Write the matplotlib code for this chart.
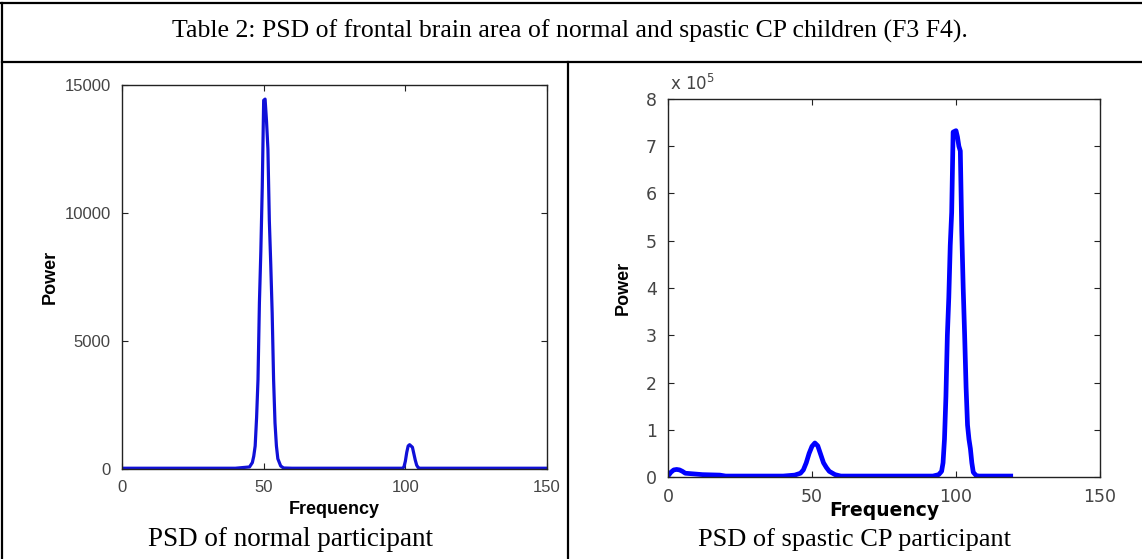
import numpy as np
import matplotlib
matplotlib.use("Agg")
import matplotlib.pyplot as plt
from matplotlib.lines import Line2D

# PSD of normal participant (F3 F4)
normal_freq = [0, 40, 43, 45, 46, 46.5, 47, 47.5, 48, 48.5, 49, 49.5, 50, 50.5,
               51, 51.5, 52, 52.5, 53, 53.5, 54, 54.5, 55, 56, 57, 60,
               99, 99.5, 100, 100.5, 101, 101.5, 102, 102.5, 103, 103.5, 104,
               104.5, 105, 106, 150]
normal_power = [30, 30, 60, 80, 250, 500, 900, 2000, 3500, 6500, 8500, 11000,
                14400, 14450, 13600, 12500, 9700, 8000, 6100, 3500, 1800, 900,
                400, 120, 40, 30,
                30, 80, 300, 650, 900, 950, 900, 850, 600, 350, 150,
                60, 30, 30, 30]

# PSD of spastic CP participant, power in units of 1e5
spastic_freq = [0, 1, 2, 3, 4, 5, 6, 8, 10, 12, 18, 20, 40, 44, 46, 47, 48, 49,
                50, 51, 52, 53, 54, 55, 56, 58, 60, 92, 94, 95, 95.5, 96, 96.5,
                97, 97.5, 98, 98.5, 99, 100, 100.5, 101, 101.5, 102, 102.5,
                103, 103.5, 104, 104.5, 105, 105.5, 106, 107, 108, 119]
spastic_power_e5 = [0.02, 0.1, 0.15, 0.16, 0.15, 0.12, 0.08, 0.07, 0.06, 0.05,
                    0.04, 0.02, 0.02, 0.04, 0.08, 0.15, 0.3, 0.5, 0.65, 0.72,
                    0.66, 0.48, 0.3, 0.2, 0.12, 0.05, 0.02, 0.02, 0.05, 0.12,
                    0.3, 0.8, 1.7, 3.0, 3.8, 4.9, 5.6, 7.3, 7.33, 7.2, 7.0,
                    6.9, 5.2, 4.0, 3.0, 1.9, 1.1, 0.8, 0.6, 0.3, 0.1, 0.03,
                    0.02, 0.02]

x_ticks = [0, 50, 100, 150]
normal_yticks = [0, 5000, 10000, 15000]
spastic_yticks = list(range(0, 9))

header = "Table 2: PSD of frontal brain area of normal and spastic CP children (F3 F4)."
captions = ["PSD of normal participant", "PSD of spastic CP participant"]

W, H = 1142, 559
fig = plt.figure(figsize=(W / 100, H / 100), dpi=100)


def px(x, y):
    return x / W, 1 - y / H


def style_axes(ax, size, family):
    for s in ax.spines.values():
        s.set_color("#222222")
        s.set_linewidth(1.0)
    ax.tick_params(direction="in", top=True, right=True, length=4,
                   width=0.8, color="#222222", labelcolor="#444444",
                   labelsize=size, pad=8)
    for t in ax.get_xticklabels() + ax.get_yticklabels():
        t.set_family(family)


# left panel
x0, y0 = px(122, 469)
x1, y1 = px(547, 85)
ax1 = fig.add_axes([x0, y0, x1 - x0, y1 - y0])
ax1.plot(normal_freq, normal_power, color="#1010d8", lw=2.3)
ax1.set_xlim(0, 150)
ax1.set_ylim(0, 15000)
ax1.set_xticks(x_ticks)
ax1.set_yticks(normal_yticks)
style_axes(ax1, 12, "Liberation Sans")
ax1.set_xlabel("Frequency", fontweight="bold", fontsize=13, labelpad=4,
               family="Liberation Sans")
ax1.set_ylabel("Power", fontweight="bold", fontsize=13, labelpad=4,
               family="Liberation Sans")

# right panel
x0, y0 = px(668, 477)
x1, y1 = px(1100, 99)
ax2 = fig.add_axes([x0, y0, x1 - x0, y1 - y0])
ax2.plot(spastic_freq, spastic_power_e5, color="#0000ff", lw=3.4)
ax2.set_xlim(0, 150)
ax2.set_ylim(0, 8)
ax2.set_xticks(x_ticks)
ax2.set_yticks(spastic_yticks)
style_axes(ax2, 12.5, "DejaVu Sans")
ax2.set_xlabel("Frequency", fontweight="bold", fontsize=13.5,
               family="DejaVu Sans", va="center")
ax2.xaxis.set_label_coords(0.5, -(511 - 477) / 378)
ax2.set_ylabel("Power", fontweight="bold", fontsize=13, labelpad=10,
               family="Liberation Sans")
ax2.text(0.005, 1.012, r"x 10$^{5}$", transform=ax2.transAxes, fontsize=12,
         color="#444444", ha="left", va="bottom", family="DejaVu Sans")

# table borders
lw = 1.6
fig.add_artist(Line2D([0, 1], [px(0, 3)[1]] * 2, color="black", lw=lw))
fig.add_artist(Line2D([px(2, 0)[0]] * 2, [0, px(0, 3)[1]], color="black", lw=lw))
fig.add_artist(Line2D([px(2, 0)[0], 1], [px(0, 62)[1]] * 2, color="black", lw=lw))
fig.add_artist(Line2D([px(568, 0)[0]] * 2, [0, px(0, 62)[1]], color="black", lw=lw))

# texts
fig.text(*px(570, 31), header, ha="center", va="center", fontsize=18.5,
         family="Liberation Serif")
fig.text(*px(290, 540), captions[0], ha="center", va="center", fontsize=19.5,
         family="Liberation Serif")
fig.text(*px(855, 540), captions[1], ha="center", va="center", fontsize=19,
         family="Liberation Serif")

fig.savefig("out.png", dpi=100)
